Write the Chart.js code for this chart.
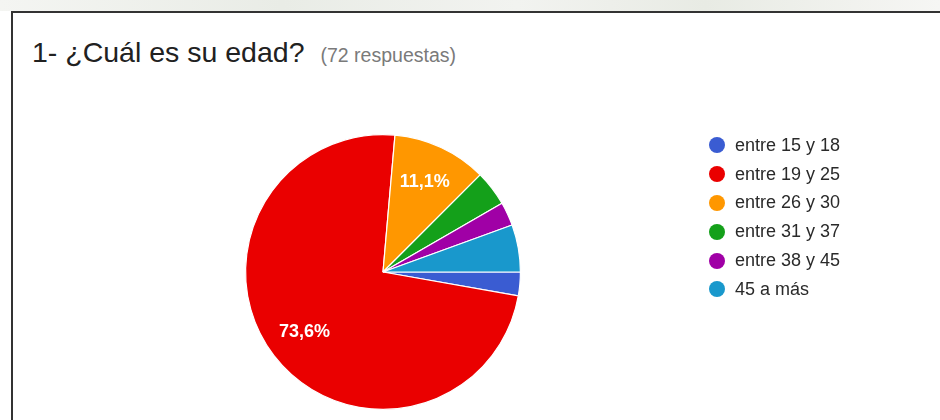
<!DOCTYPE html>
<html>
<head>
<meta charset="utf-8">
<script src="https://cdn.jsdelivr.net/npm/chart.js@4.4.1/dist/chart.umd.min.js"></script>
<style>
  html, body { margin: 0; padding: 0; width: 940px; height: 420px; overflow: hidden; background: #ffffff; font-family: "Liberation Sans", Arial, sans-serif; }
  #band { position: absolute; left: 0; top: 0; width: 940px; height: 11px; background: linear-gradient(90deg, #f4f5f2 0%, #e9ece6 30%, #f2f3f0 55%, #e8ebe4 75%, #f6f6f4 100%); }
  #frame { position: absolute; left: 11px; top: 11px; width: 940px; height: 420px; border-top: 2px solid #333; border-left: 2px solid #333; box-sizing: border-box; }
  #title { position: absolute; left: 32px; top: 38px; font-size: 28.5px; line-height: 28px; color: #212121; white-space: nowrap; }
  #title span { font-size: 19.5px; color: #7a7a7a; margin-left: 16px; }
  #wrap { position: absolute; left: 0; top: 0; width: 940px; height: 420px; }
  #legend { position: absolute; left: 709px; top: 131px; font-size: 18px; color: #2a2a2a; }
  #legend div { height: 28.8px; display: flex; align-items: center; white-space: nowrap; }
  #legend i { display: inline-block; width: 16px; height: 16px; border-radius: 50%; margin-right: 10px; }
</style>
</head>
<body>
<div id="band"></div>
<div id="frame"></div>
<div id="title">1- ¿Cuál es su edad?<span>(72 respuestas)</span></div>
<div id="wrap"><canvas id="c" width="940" height="420"></canvas></div>
<div id="legend"></div>
<script>
const categories = ["entre 15 y 18", "entre 19 y 25", "entre 26 y 30", "entre 31 y 37", "entre 38 y 45", "45 a más"];
const counts = [2, 53, 8, 3, 2, 4];
const colors = ["#3a5cd2", "#ea0000", "#ff9700", "#14a01a", "#a000a6", "#1998cc"];

const total = counts.reduce((a, b) => a + b, 0);

const legend = document.getElementById('legend');
categories.forEach((c, i) => {
  const d = document.createElement('div');
  const dot = document.createElement('i');
  dot.style.background = colors[i];
  d.appendChild(dot);
  d.appendChild(document.createTextNode(c));
  legend.appendChild(d);
});

const sliceLabels = {
  id: 'sliceLabels',
  afterDatasetsDraw(chart) {
    const ctx = chart.ctx;
    const meta = chart.getDatasetMeta(0);
    ctx.save();
    ctx.fillStyle = '#ffffff';
    ctx.font = 'bold 18px "Liberation Sans", Arial, sans-serif';
    ctx.textAlign = 'center';
    ctx.textBaseline = 'middle';
    meta.data.forEach((arc, i) => {
      const pct = counts[i] / total * 100;
      if (pct < 10) return;
      const p = arc.getProps(['x', 'y', 'startAngle', 'endAngle', 'outerRadius'], true);
      const mid = (p.startAngle + p.endAngle) / 2;
      const r = p.outerRadius * 0.72;
      const txt = pct.toFixed(1).replace('.', ',') + '%';
      ctx.fillText(txt, p.x + Math.cos(mid) * r, p.y + Math.sin(mid) * r);
    });
    ctx.restore();
  }
};

new Chart(document.getElementById('c'), {
  type: 'pie',
  data: {
    labels: categories,
    datasets: [{
      data: counts,
      backgroundColor: colors,
      borderColor: '#ffffff',
      borderWidth: 1.2
    }]
  },
  options: {
    responsive: false,
    animation: false,
    rotation: 90,
    layout: { padding: { left: 245, right: 419, top: 134, bottom: 10 } },
    plugins: {
      legend: { display: false },
      tooltip: { enabled: false },
      title: { display: false }
    }
  },
  plugins: [sliceLabels]
});
</script>
</body>
</html>
